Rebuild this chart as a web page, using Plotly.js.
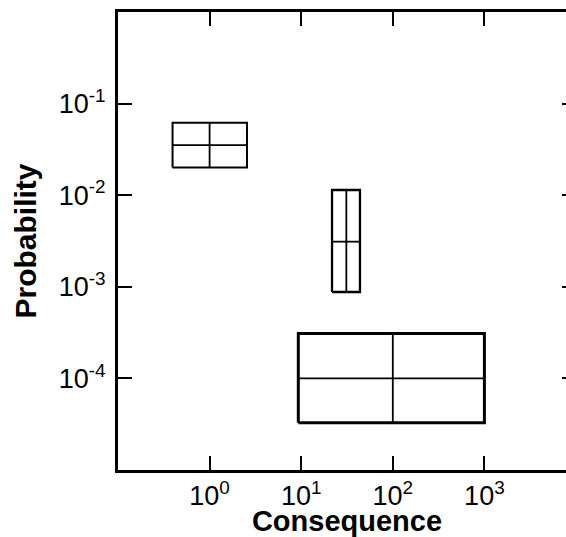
<!DOCTYPE html>
<html>
<head>
<meta charset="utf-8">
<script src="https://cdn.plot.ly/plotly-3.0.1.min.js"></script>
<style>
html, body { margin: 0; padding: 0; overflow: hidden; background: #fff; }
#chart { width: 576px; height: 537px; }
</style>
</head>
<body>
<div id="chart"></div>
<script>
// Box data: consequence (x) and probability (y) ranges with central estimates
const boxNames = ['A', 'B', 'C'];
const xLow  = [0.394, 21.7, 9.3];
const xMid  = [1.0, 31.1, 100];
const xHigh = [2.56, 43.8, 1000];
const yLow  = [0.0201, 0.000877, 3.27e-5];
const yMid  = [0.0352, 0.00311, 1.0e-4];
const yHigh = [0.0617, 0.0114, 3.1e-4];

const xTickVals = [1, 10, 100, 1000];
const xTickText = ['10<sup>0</sup>', '10<sup>1</sup>', '10<sup>2</sup>', '10<sup>3</sup>'];
const yTickVals = [0.1, 0.01, 0.001, 0.0001];
const yTickText = ['10<sup>-1</sup>', '10<sup>-2</sup>', '10<sup>-3</sup>', '10<sup>-4</sup>'];

const outerWidth = [2, 2.3, 3];
const innerWidth = 1.8;

const traces = [];
boxNames.forEach((name, i) => {
  traces.push({
    type: 'scatter', mode: 'lines', name: name + ' range',
    x: [xLow[i], xHigh[i], xHigh[i], xLow[i], xLow[i]],
    y: [yLow[i], yLow[i], yHigh[i], yHigh[i], yLow[i]],
    line: { color: '#000', width: outerWidth[i] },
    hoverinfo: 'skip', showlegend: false
  });
  traces.push({
    type: 'scatter', mode: 'lines', name: name + ' central',
    x: [xMid[i], xMid[i], null, xLow[i], xHigh[i]],
    y: [yLow[i], yHigh[i], null, yMid[i], yMid[i]],
    line: { color: '#000', width: innerWidth },
    hoverinfo: 'skip', showlegend: false
  });
});

const fontFam = '"Liberation Sans", Arial, Helvetica, sans-serif';

const layout = {
  width: 576, height: 537,
  autosize: false,
  margin: { l: 117.5, r: 0, t: 12.3, b: 67 },
  paper_bgcolor: '#fff', plot_bgcolor: '#fff',
  showlegend: false,
  font: { family: fontFam, color: '#000' },
  xaxis: {
    type: 'log', range: [-1, 4],
    tickmode: 'array', tickvals: xTickVals, ticktext: xTickText,
    ticks: 'inside', ticklen: 14, tickwidth: 2, tickcolor: '#000',
    showline: true, linecolor: '#000', linewidth: 3, mirror: 'ticks',
    showgrid: false, zeroline: false,
    tickfont: { family: fontFam, size: 27, color: '#000' },
    title: { text: 'Consequence', font: { family: fontFam, size: 29, weight: 700, color: '#000' }, standoff: 0 },
    automargin: false
  },
  yaxis: {
    type: 'log', range: [-5, 0],
    tickmode: 'array', tickvals: yTickVals, ticktext: yTickText,
    ticks: 'inside', ticklen: 14, tickwidth: 2, tickcolor: '#000',
    showline: true, linecolor: '#000', linewidth: 3, mirror: 'ticks',
    showgrid: false, zeroline: false,
    tickfont: { family: fontFam, size: 27, color: '#000' },
    ticklabelstandoff: 4,
    title: { text: 'Probability', font: { family: fontFam, size: 30, weight: 700, color: '#000' }, standoff: 14 },
    automargin: false
  }
};

Plotly.newPlot('chart', traces, layout, { displayModeBar: false, staticPlot: true });
</script>
</body>
</html>
